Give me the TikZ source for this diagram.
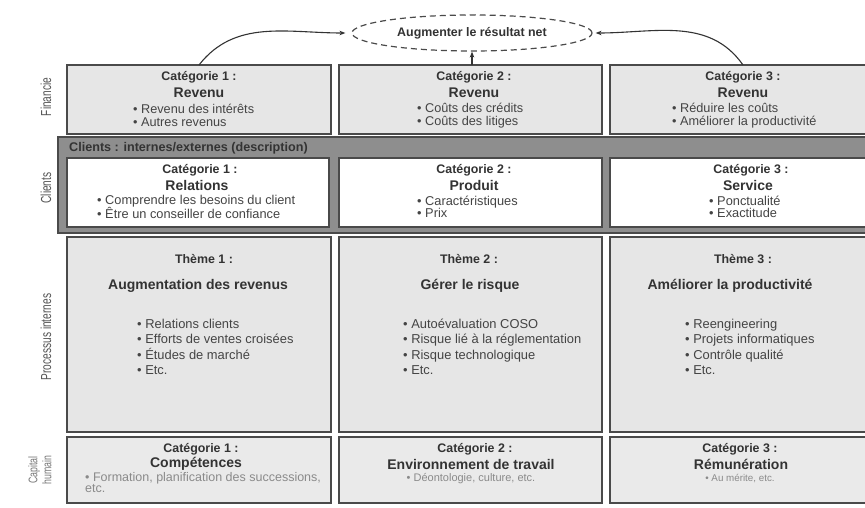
\documentclass[tikz,border=0pt]{standalone}
\usepackage{fontspec}
\setmainfont{Liberation Sans}
\newfontfamily\labelfont[FakeStretch=0.7]{Liberation Sans}
\usetikzlibrary{shapes.geometric,arrows.meta}

\definecolor{ink}{HTML}{333333}
\definecolor{inksoft}{HTML}{444444}
\definecolor{inkfaint}{HTML}{8A8A8A}
\definecolor{edge}{HTML}{4A4A4A}
\definecolor{cellfill}{HTML}{E6E6E6}
\definecolor{capfill}{HTML}{EAEAEA}
\definecolor{bandfill}{HTML}{8E8E8E}
\definecolor{labelgray}{HTML}{555555}

\begin{document}
\begin{tikzpicture}[x=1pt,y=-1pt,
  cell/.style={rectangle,draw=edge,line width=1.3pt,fill=cellfill,inner sep=0pt,outer sep=0pt},
  whitecell/.style={cell,fill=white},
  capcell/.style={cell,fill=capfill},
  band/.style={rectangle,draw=edge,line width=1.3pt,fill=bandfill,inner sep=0pt,outer sep=0pt},
  cattitle/.style={font=\bfseries\fontsize{12.4}{14}\selectfont,text=ink,inner sep=0pt},
  cathead/.style={font=\bfseries\fontsize{14}{15}\selectfont,text=ink,inner sep=0pt},
  bulletsF/.style={font=\fontsize{12.7}{13}\selectfont,text=inksoft,align=left,inner sep=0pt,anchor=west},
  bulletsC/.style={font=\fontsize{12.8}{12.5}\selectfont,text=inksoft,align=left,inner sep=0pt,anchor=west},
  bulletsP/.style={font=\fontsize{12.9}{15.4}\selectfont,text=inksoft,align=left,inner sep=0pt,anchor=west},
  bulletsH/.style={text=inkfaint,align=left,inner sep=0pt},
  rowlabel/.style={font=\labelfont\fontsize{14.5}{15}\selectfont,text=labelgray,rotate=90,align=center,inner sep=0pt},
  link/.style={draw=ink,line width=1.1pt,-{Stealth[length=6pt,width=4.5pt]}}
]
\useasboundingbox[fill=white] (0,0) rectangle (865,508);

% ---------- row labels ----------
\node[rowlabel] (lfin) at (46,97) {Financie};
\node[rowlabel] (lcli) at (46,188) {Clients};
\node[rowlabel] (lpro) at (46,337) {Processus internes};
\node[rowlabel,font=\labelfont\fontsize{12.5}{14}\selectfont,text=labelgray!80] (lcap) at (40,470) {Capital\\humain};

% ---------- goal ----------
\node[ellipse,draw=edge,line width=1.2pt,dash pattern=on 6pt off 4pt,
      minimum width=240pt,minimum height=36pt,inner sep=0pt,
      font=\bfseries\fontsize{12.4}{14}\selectfont,text=ink] (goal) at (472,33)
      {Augmenter le résultat net};

% ---------- Financie ----------
\node[cell,minimum width=264pt,minimum height=69pt] (f1) at (199,99.5) {};
\node[cell,minimum width=263pt,minimum height=69pt] (f2) at (470.5,99.5) {};
\node[cell,minimum width=266pt,minimum height=69pt] (f3) at (743,99.5) {};

\node[cattitle] (f1t) at (199,77) {Catégorie 1 :};
\node[cathead]  (f1h) at (199,93) {Revenu};
\node[bulletsF] (f1b) at (133,115.5) {• Revenu des intérêts\\• Autres revenus};

\node[cattitle] (f2t) at (474,77) {Catégorie 2 :};
\node[cathead]  (f2h) at (474,93) {Revenu};
\node[bulletsF] (f2b) at (417,115.5) {• Coûts des crédits\\• Coûts des litiges};

\node[cattitle] (f3t) at (743,77) {Catégorie 3 :};
\node[cathead]  (f3h) at (743,93) {Revenu};
\node[bulletsF] (f3b) at (672,115.5) {• Réduire les coûts\\• Améliorer la productivité};

% ---------- Clients ----------
\node[band,minimum width=822pt,minimum height=96pt] (cband) at (469,185) {};
\node[font=\bfseries\fontsize{12.6}{14}\selectfont,text=ink,inner sep=0pt,anchor=west]
  (cbandt) at (69,148) {Clients : internes/externes (description)};

\node[whitecell,minimum width=262pt,minimum height=69pt] (c1) at (198,192.5) {};
\node[whitecell,minimum width=263pt,minimum height=69pt] (c2) at (470.5,192.5) {};
\node[whitecell,minimum width=266pt,minimum height=69pt] (c3) at (743,192.5) {};

\node[cattitle] (c1t) at (200,170) {Catégorie 1 :};
\node[cathead]  (c1h) at (197,185) {Relations};
\node[bulletsC] (c1b) at (97,207) {• Comprendre les besoins du client\\• Être un conseiller de confiance};

\node[cattitle] (c2t) at (474,170) {Catégorie 2 :};
\node[cathead]  (c2h) at (474,185) {Produit};
\node[bulletsC] (c2b) at (417,207) {• Caractéristiques\\• Prix};

\node[cattitle] (c3t) at (751,170) {Catégorie 3 :};
\node[cathead]  (c3h) at (748,185) {Service};
\node[bulletsC] (c3b) at (709,207) {• Ponctualité\\• Exactitude};

% ---------- Processus internes ----------
\node[cell,minimum width=264pt,minimum height=195pt] (p1) at (199,334.5) {};
\node[cell,minimum width=263pt,minimum height=195pt] (p2) at (470.5,334.5) {};
\node[cell,minimum width=266pt,minimum height=195pt] (p3) at (743,334.5) {};

\node[cattitle] (p1t) at (204,259) {Thème 1 :};
\node[cathead]  (p1h) at (198,286) {Augmentation des revenus};
\node[bulletsP] (p1b) at (137,347) {• Relations clients\\• Efforts de ventes croisées\\• Études de marché\\• Etc.};

\node[cattitle] (p2t) at (469,259) {Thème 2 :};
\node[cathead]  (p2h) at (470,286) {Gérer le risque};
\node[bulletsP] (p2b) at (403,347) {• Autoévaluation COSO\\• Risque lié à la réglementation\\• Risque technologique\\• Etc.};

\node[cattitle] (p3t) at (743,259) {Thème 3 :};
\node[cathead]  (p3h) at (730,286) {Améliorer la productivité};
\node[bulletsP] (p3b) at (685,347) {• Reengineering\\• Projets informatiques\\• Contrôle qualité\\• Etc.};

% ---------- Capital humain ----------
\node[capcell,minimum width=264pt,minimum height=66pt] (h1) at (199,470) {};
\node[capcell,minimum width=263pt,minimum height=66pt] (h2) at (470.5,470) {};
\node[capcell,minimum width=266pt,minimum height=66pt] (h3) at (743,470) {};

\node[cattitle] (h1t) at (201,449) {Catégorie 1 :};
\node[cathead]  (h1h) at (196,464) {Compétences};
\node[bulletsH,anchor=west,font=\fontsize{12.5}{10}\selectfont] (h1b) at (85,482.5)
  {• Formation, planification des successions,\\etc.};

\node[cattitle] (h2t) at (475,449) {Catégorie 2 :};
\node[cathead]  (h2h) at (471,464) {Environnement de travail};
\node[bulletsH,font=\fontsize{11}{12}\selectfont] (h2b) at (471,479) {• Déontologie, culture, etc.};

\node[cattitle] (h3t) at (740,449) {Catégorie 3 :};
\node[cathead]  (h3h) at (741,464) {Rémunération};
\node[bulletsH,font=\fontsize{9.8}{12}\selectfont] (h3b) at (740,479) {• Au mérite, etc.};

% ---------- connectors ----------
\draw[link] (f1.north) to[out=52,in=180] ([xshift=-6pt]goal.west);
\draw[link] (f3.north) to[out=125,in=0] ([xshift=3pt]goal.east);
\draw[link] (goal.south |- f2.north) -- (goal.south);
\end{tikzpicture}
\end{document}
